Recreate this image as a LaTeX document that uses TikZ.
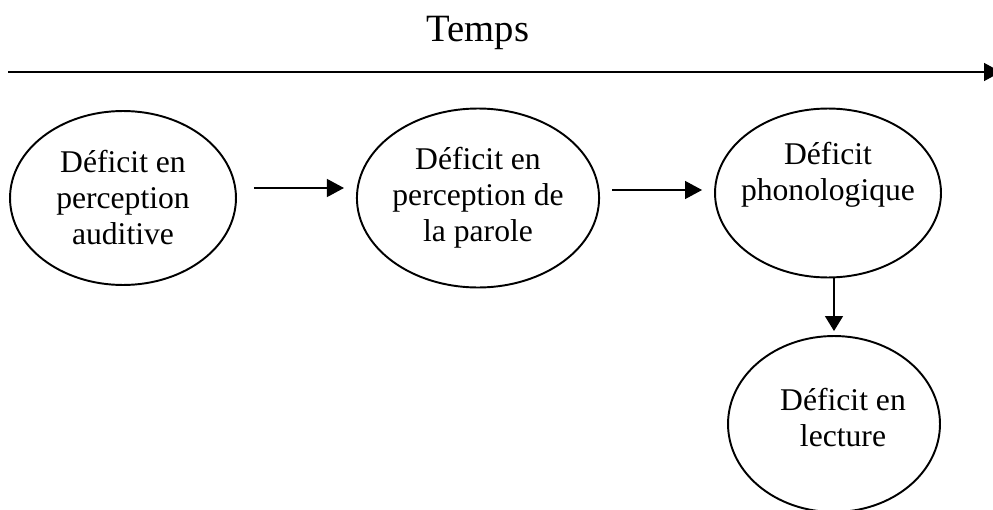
\documentclass[tikz,border=0pt]{standalone}
\usepackage{fontspec}
\setmainfont{Liberation Serif}
\usetikzlibrary{shapes.geometric,arrows.meta,calc}

\begin{document}
\begin{tikzpicture}[x=0.02cm,y=-0.02cm,>={Triangle[length=0.34cm,width=0.36cm]},
	bulle/.style={ellipse,draw,line width=1.1pt,inner sep=0pt},
	texte/.style={align=center,font=\fontsize{18}{20.5}\selectfont},
	fleche/.style={->,line width=0.7pt}]
	\useasboundingbox (0,0) rectangle (993,510);
	% axe du temps
	\coordinate (debut) at (8,72);
	\coordinate (fin) at (1001,72);
	\draw[fleche,line width=0.8pt] (debut) -- (fin);
	\node[font=\fontsize{22}{26}\selectfont] (temps) at (478,33) {Temps};
	% les deficits
	\node[bulle,texte,minimum width=4.52cm,minimum height=3.48cm] (aud) at (123,198) {D\'eficit en\\perception\\auditive};
	\node[bulle,texte,minimum width=4.5cm,minimum height=3.58cm] (parole) at (478,198) {D\'eficit en\\perception de\\la parole};
	\node[bulle,minimum width=4.52cm,minimum height=3.38cm] (phon) at (828,193) {};
	\node[texte] (phon-t) at ($(phon)+(0,-18)$) {D\'eficit\\phonologique};
	\node[bulle,minimum width=4.24cm,minimum height=3.52cm] (lect) at (834,424) {};
	\node[texte] (lect-t) at ($(lect)+(9,-6)$) {D\'eficit en\\lecture};
	% fleches
	\draw[fleche] ($(aud.east)+(17,-10)$) -- ($(parole.west)+(-12,-10)$);
	\draw[fleche] ($(parole.east)+(12,-8)$) -- ($(phon.west)+(-12,-3)$);
	\draw[fleche,>={Triangle[length=0.3cm,width=0.36cm]},shorten >=0.08cm] (phon.south -| lect) -- (lect.north);
\end{tikzpicture}
\end{document}
